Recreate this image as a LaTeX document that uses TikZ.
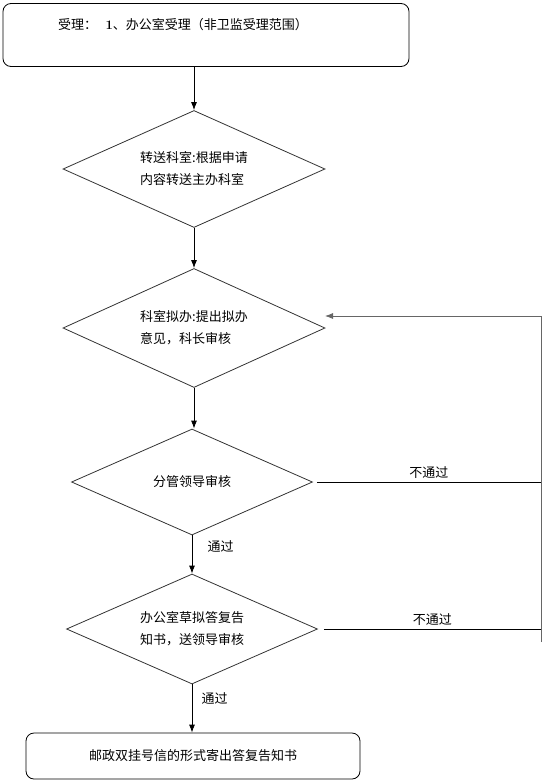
\documentclass[tikz,border=0pt]{standalone}
\usepackage{fontspec}
\newfontfamily\cjk{Noto Sans CJK SC}
\usetikzlibrary{shapes.geometric,arrows.meta}
\begin{document}
\begin{tikzpicture}[x=1pt, y=-1pt, line width=0.8pt, >={Latex[length=8pt,width=6pt]},
  every node/.style={font=\cjk\fontsize{13}{22}\selectfont},
  roundbox/.style={draw, rounded corners=8pt, inner sep=0pt},
  choice/.style={draw=black!80, diamond, aspect=2.25, inner sep=0pt, align=left},
  passlabel/.style={right, pos=0.3, xshift=12pt}]
\useasboundingbox (0,0) rectangle (543,782);
\node[roundbox, minimum width=406, minimum height=63, text width=296, align=left] (accept) at (206,35)
  {受理：\ \ \textrm{\textbf{1}}、办公室受理（非卫监受理范围）\\ \mbox{}};
\node[choice, minimum width=262, minimum height=117] (send) at (194,169) {转送科室:根据申请\\内容转送主办科室};
\node[choice, minimum width=262, minimum height=119] (draft) at (194,328) {科室拟办:提出拟办\\意见，科长审核};
\node[choice, minimum width=241, minimum height=106] (lead) at (192,482) {分管领导审核};
\node[choice, minimum width=251, minimum height=110] (reply) at (192,629) {办公室草拟答复告\\知书，送领导审核};
\node[roundbox, minimum width=334, minimum height=46] (mail) at (193,756) {邮政双挂号信的形式寄出答复告知书};
\coordinate (loopend) at (541,642);
\coordinate (loopr) at (541,316);
\coordinate (back) at (325,316);
\draw[->] (send.north |- accept.south) -- (send.north);
\draw[->] (send.south) -- (draft.north);
\draw[->] (draft.south) -- (draft.south |- lead.north);
\draw[->] (lead.south) -- node[passlabel] {通过} (lead.south |- reply.north);
\draw[->] (reply.south) -- node[passlabel, xshift=-6pt] {通过} (reply.south |- mail.north);
\draw ([xshift=4]lead.east) -- node[above] {不通过} (lead.east -| loopr);
\draw ([xshift=6]reply.east) -- node[above] {不通过} (reply.east -| loopr);
\draw[->, black!60] (loopend) -- (loopr) -- (back);
\end{tikzpicture}
\end{document}
